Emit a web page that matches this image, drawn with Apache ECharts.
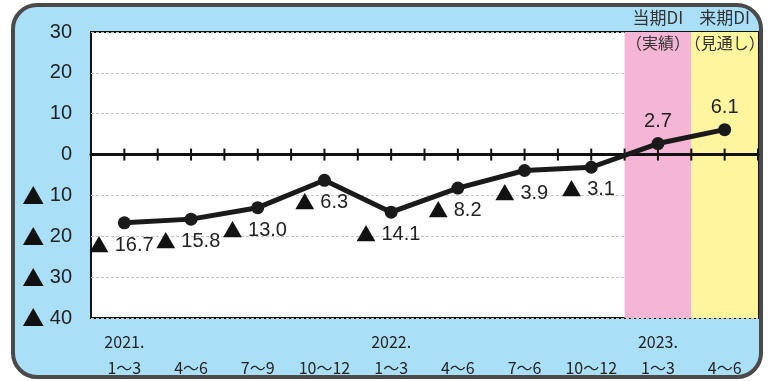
<!DOCTYPE html>
<html>
<head>
<meta charset="utf-8">
<script src="https://cdn.jsdelivr.net/npm/echarts@6/dist/echarts.min.js"></script>
<style>
html, body { margin: 0; padding: 0; background: #fff; }
#main { width: 768px; height: 381px; }
</style>
</head>
<body>
<div id="main"></div>
<script>
// 四半期ごとのDI
var categories = ['2021.\n1～3', '\n4～6', '\n7～9', '\n10～12', '2022.\n1～3', '\n4～6', '\n7～6', '\n10～12', '2023.\n1～3', '\n4～6'];
var diValues = [-16.7, -15.8, -13.0, -6.3, -14.1, -8.2, -3.9, -3.1, 2.7, 6.1];
var yMin = -40, yMax = 30, yStep = 10;
var bandNames = ['当期DI', '来期DI'];
var bandNotes = ['（実績）', '（見通し）'];
var bandColors = ['#f5b6d6', '#fff59e'];

var labelFont = '"Liberation Sans Narrow", "Liberation Sans", Arial, sans-serif';
var jpFont = '"Noto Sans CJK JP", sans-serif';

function fmt(v) {
	return v < 0 ? '{t|▲}{n| ' + Math.abs(v).toFixed(1) + '}' : '{n|' + v.toFixed(1) + '}';
}

var chart = echarts.init(document.getElementById('main'));

// 帯（当期・来期）は 0..10 の補助軸で位置を決める
var nCat = categories.length;
var bandData = [];
for (var i = 0; i < bandNames.length; i++) {
	var from = nCat - bandNames.length + i;
	bandData.push([{
		xAxis: from,
		itemStyle: { color: bandColors[i] },
		label: { formatter: '{a|' + bandNames[i] + '}\n{b|' + bandNotes[i] + '}' }
	}, { xAxis: from + 1 }]);
}

// 0の線の目盛り（半区間ごと）
var zeroTicks = [];
for (var k = 0; k <= nCat * 2; k++) zeroTicks.push(k / 2);

var option = {
	animation: false,
	graphic: [{
		type: 'rect', z: -10,
		shape: { x: 13, y: 5, width: 748, height: 372, r: 24 },
		style: { fill: '#aadff8', stroke: '#4a4a4a', lineWidth: 4 }
	}],
	grid: {
		left: 91, right: 10, top: 32, bottom: 61,
		show: true, backgroundColor: '#fff', borderColor: '#111', borderWidth: 2
	},
	xAxis: [{
		type: 'category',
		data: categories,
		position: 'bottom',
		axisLine: { show: false, onZero: false },
		axisTick: { show: false },
		axisLabel: {
			margin: 11, fontSize: 16, lineHeight: 26, color: '#222',
			fontFamily: jpFont, interval: 0
		}
	}, {
		type: 'value', min: 0, max: nCat,
		position: 'bottom',
		z: 5,
		axisLine: { show: true, onZero: true, lineStyle: { color: '#111', width: 3 } },
		axisTick: { show: false },
		axisLabel: { show: false },
		splitLine: { show: false }
	}],
	yAxis: {
		type: 'value', min: yMin, max: yMax, interval: yStep,
		axisLine: { show: false, onZero: false },
		axisTick: { show: false },
		axisLabel: {
			margin: 19, color: '#222',
			formatter: function (v) { return v < 0 ? '{t|▲}{n| ' + (-v) + '}' : '{n|' + v + '}'; },
			rich: {
				t: { fontSize: 22, fontFamily: jpFont, color: '#111' },
				n: { fontSize: 20, fontFamily: '"Liberation Sans", Arial, sans-serif', color: '#222' }
			}
		},
		splitLine: { lineStyle: { color: '#c4c4c4', type: [3, 2], width: 1 } }
	},
	series: [{
		type: 'line',
		xAxisIndex: 1,
		z: 1,
		data: [],
		markArea: {
			silent: true,
			label: {
				show: true, position: 'insideTop', offset: [0, -32],
				rich: {
					a: { fontSize: 17, lineHeight: 25, color: '#333', fontFamily: jpFont },
					b: { fontSize: 16, lineHeight: 25, color: '#333', fontFamily: jpFont }
				}
			},
			data: bandData
		}
	}, {
		type: 'custom',
		xAxisIndex: 1,
		z: 6,
		silent: true,
		clip: false,
		data: zeroTicks,
		renderItem: function (params, api) {
			var p = api.coord([api.value(0), 0]);
			return {
				type: 'line',
				shape: { x1: p[0], y1: p[1] - 6, x2: p[0], y2: p[1] + 6 },
				style: { stroke: '#111', lineWidth: 2 }
			};
		}
	}, {
		type: 'line',
		xAxisIndex: 0,
		z: 10,
		data: diValues.map(function (v) {
			return { value: v, label: { position: v < 0 ? 'bottom' : 'top', offset: v < 0 ? [-3, 0] : [0, 0] } };
		}),
		symbol: 'circle',
		symbolSize: 13,
		itemStyle: { color: '#1a1a1a' },
		lineStyle: { color: '#1a1a1a', width: 5 },
		label: {
			show: true, distance: 6,
			formatter: function (p) { return fmt(p.value); },
			rich: {
				t: { fontSize: 20, fontFamily: jpFont, color: '#111' },
				n: { fontSize: 20, fontFamily: labelFont, color: '#222' }
			}
		}
	}]
};

chart.setOption(option);
</script>
</body>
</html>
